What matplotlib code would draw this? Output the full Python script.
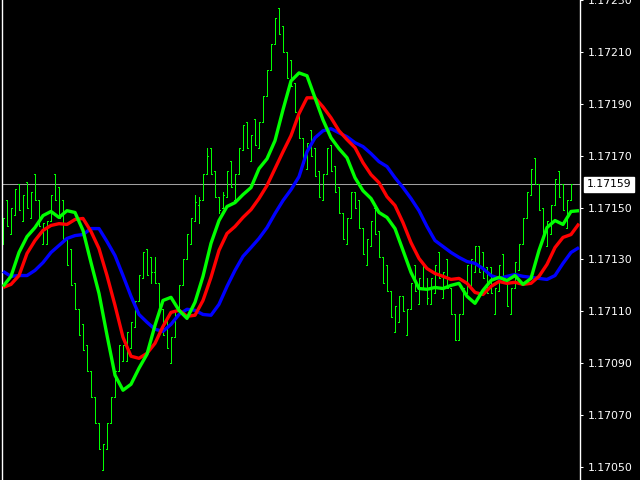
import numpy as np
import matplotlib
matplotlib.use("Agg")
import matplotlib.pyplot as plt
from matplotlib.transforms import blended_transform_factory

# OHLC bars
highs = [1.17146, 1.17153, 1.17150, 1.17157, 1.17159, 1.17155, 1.17160, 1.17156, 1.17163, 1.17153,
         1.17144, 1.17145, 1.17155, 1.17163, 1.17158, 1.17153, 1.17138, 1.17134, 1.17121, 1.17111,
         1.17105, 1.17097, 1.17087, 1.17077, 1.17067, 1.17059, 1.17067, 1.17077, 1.17087, 1.17097,
         1.17097, 1.17102, 1.17106, 1.17114, 1.17124, 1.17133, 1.17134, 1.17131, 1.17131, 1.17121,
         1.17111, 1.17107, 1.17100, 1.17110, 1.17120, 1.17130, 1.17140, 1.17146, 1.17155, 1.17154,
         1.17163, 1.17173, 1.17173, 1.17164, 1.17154, 1.17156, 1.17164, 1.17168, 1.17163, 1.17173,
         1.17182, 1.17183, 1.17178, 1.17184, 1.17183, 1.17193, 1.17203, 1.17213, 1.17223, 1.17227,
         1.17220, 1.17210, 1.17207, 1.17198, 1.17187, 1.17177, 1.17175, 1.17180, 1.17173, 1.17164,
         1.17163, 1.17173, 1.17174, 1.17166, 1.17158, 1.17148, 1.17146, 1.17156, 1.17156, 1.17153,
         1.17142, 1.17138, 1.17145, 1.17150, 1.17141, 1.17131, 1.17128, 1.17118, 1.17112, 1.17116,
         1.17116, 1.17111, 1.17121, 1.17128, 1.17123, 1.17129, 1.17123, 1.17123, 1.17128, 1.17133,
         1.17125, 1.17130, 1.17119, 1.17109, 1.17109, 1.17119, 1.17128, 1.17130, 1.17135, 1.17135,
         1.17133, 1.17127, 1.17127, 1.17119, 1.17128, 1.17132, 1.17122, 1.17119, 1.17129, 1.17136,
         1.17146, 1.17156, 1.17165, 1.17169, 1.17159, 1.17150, 1.17145, 1.17151, 1.17161, 1.17164,
         1.17159, 1.17153, 1.17159]
lows = [1.17136, 1.17143, 1.17140, 1.17147, 1.17149, 1.17145, 1.17150, 1.17146, 1.17153, 1.17143,
        1.17136, 1.17136, 1.17145, 1.17153, 1.17146, 1.17138, 1.17128, 1.17120, 1.17111, 1.17101,
        1.17095, 1.17087, 1.17077, 1.17067, 1.17057, 1.17049, 1.17057, 1.17067, 1.17077, 1.17087,
        1.17091, 1.17091, 1.17096, 1.17104, 1.17114, 1.17123, 1.17124, 1.17121, 1.17121, 1.17112,
        1.17101, 1.17096, 1.17090, 1.17100, 1.17110, 1.17120, 1.17130, 1.17136, 1.17145, 1.17144,
        1.17153, 1.17163, 1.17163, 1.17154, 1.17148, 1.17150, 1.17154, 1.17158, 1.17153, 1.17163,
        1.17172, 1.17173, 1.17168, 1.17174, 1.17173, 1.17183, 1.17193, 1.17203, 1.17213, 1.17217,
        1.17210, 1.17200, 1.17197, 1.17187, 1.17177, 1.17167, 1.17165, 1.17170, 1.17162, 1.17154,
        1.17153, 1.17163, 1.17164, 1.17156, 1.17148, 1.17138, 1.17136, 1.17146, 1.17150, 1.17142,
        1.17132, 1.17128, 1.17135, 1.17140, 1.17131, 1.17121, 1.17118, 1.17108, 1.17102, 1.17106,
        1.17110, 1.17101, 1.17111, 1.17118, 1.17113, 1.17119, 1.17113, 1.17113, 1.17117, 1.17123,
        1.17115, 1.17119, 1.17109, 1.17099, 1.17099, 1.17109, 1.17117, 1.17119, 1.17125, 1.17125,
        1.17123, 1.17117, 1.17117, 1.17109, 1.17118, 1.17122, 1.17112, 1.17109, 1.17119, 1.17126,
        1.17136, 1.17146, 1.17155, 1.17159, 1.17149, 1.17139, 1.17135, 1.17140, 1.17151, 1.17154,
        1.17149, 1.17142, 1.17153]
opens = [1.17136, 1.17153, 1.17140, 1.17147, 1.17159, 1.17145, 1.17160, 1.17146, 1.17163, 1.17153,
         1.17136, 1.17136, 1.17145, 1.17163, 1.17158, 1.17153, 1.17138, 1.17134, 1.17121, 1.17111,
         1.17105, 1.17097, 1.17087, 1.17077, 1.17067, 1.17049, 1.17057, 1.17067, 1.17077, 1.17087,
         1.17091, 1.17091, 1.17096, 1.17104, 1.17114, 1.17123, 1.17134, 1.17131, 1.17125, 1.17121,
         1.17111, 1.17107, 1.17090, 1.17100, 1.17110, 1.17120, 1.17130, 1.17136, 1.17145, 1.17151,
         1.17153, 1.17163, 1.17173, 1.17164, 1.17154, 1.17150, 1.17154, 1.17168, 1.17153, 1.17163,
         1.17172, 1.17183, 1.17168, 1.17184, 1.17173, 1.17183, 1.17193, 1.17203, 1.17213, 1.17227,
         1.17220, 1.17210, 1.17207, 1.17198, 1.17187, 1.17177, 1.17165, 1.17180, 1.17173, 1.17164,
         1.17153, 1.17163, 1.17174, 1.17166, 1.17158, 1.17148, 1.17136, 1.17146, 1.17156, 1.17153,
         1.17142, 1.17128, 1.17135, 1.17150, 1.17141, 1.17131, 1.17128, 1.17118, 1.17102, 1.17106,
         1.17116, 1.17101, 1.17111, 1.17128, 1.17113, 1.17129, 1.17119, 1.17113, 1.17117, 1.17133,
         1.17115, 1.17130, 1.17119, 1.17109, 1.17099, 1.17109, 1.17117, 1.17119, 1.17125, 1.17135,
         1.17133, 1.17127, 1.17127, 1.17109, 1.17118, 1.17132, 1.17122, 1.17109, 1.17119, 1.17126,
         1.17136, 1.17146, 1.17155, 1.17169, 1.17159, 1.17150, 1.17135, 1.17140, 1.17151, 1.17164,
         1.17159, 1.17142, 1.17153]
closes = [1.17146, 1.17143, 1.17150, 1.17157, 1.17149, 1.17155, 1.17150, 1.17156, 1.17153, 1.17143,
          1.17144, 1.17145, 1.17155, 1.17153, 1.17146, 1.17138, 1.17128, 1.17120, 1.17111, 1.17101,
          1.17095, 1.17087, 1.17077, 1.17067, 1.17057, 1.17059, 1.17067, 1.17077, 1.17087, 1.17097,
          1.17097, 1.17102, 1.17106, 1.17114, 1.17124, 1.17133, 1.17124, 1.17125, 1.17121, 1.17112,
          1.17101, 1.17096, 1.17100, 1.17110, 1.17120, 1.17130, 1.17140, 1.17146, 1.17152, 1.17153,
          1.17163, 1.17170, 1.17163, 1.17154, 1.17149, 1.17155, 1.17164, 1.17158, 1.17163, 1.17173,
          1.17182, 1.17173, 1.17178, 1.17174, 1.17183, 1.17193, 1.17203, 1.17213, 1.17223, 1.17217,
          1.17210, 1.17200, 1.17197, 1.17187, 1.17177, 1.17167, 1.17175, 1.17170, 1.17162, 1.17154,
          1.17163, 1.17173, 1.17164, 1.17156, 1.17148, 1.17138, 1.17146, 1.17156, 1.17150, 1.17142,
          1.17132, 1.17138, 1.17145, 1.17140, 1.17131, 1.17121, 1.17118, 1.17108, 1.17112, 1.17116,
          1.17110, 1.17111, 1.17121, 1.17118, 1.17123, 1.17119, 1.17115, 1.17123, 1.17128, 1.17123,
          1.17125, 1.17119, 1.17109, 1.17099, 1.17109, 1.17119, 1.17128, 1.17130, 1.17135, 1.17125,
          1.17123, 1.17117, 1.17117, 1.17119, 1.17128, 1.17122, 1.17112, 1.17119, 1.17129, 1.17136,
          1.17146, 1.17156, 1.17165, 1.17159, 1.17149, 1.17139, 1.17145, 1.17151, 1.17161, 1.17154,
          1.17149, 1.17153, 1.17159]

# moving averages, sampled every second bar (shifted lines run 2 bars past the last bar)
ma_fast = [1.171196, 1.171235, 1.171327, 1.171388, 1.171423, 1.171469, 1.171485, 1.171462, 1.171488, 1.171481,
           1.171412, 1.171288, 1.171169, 1.171008, 1.170854, 1.170796, 1.170819, 1.170881, 1.170935, 1.171046,
           1.171142, 1.171154, 1.171104, 1.171073, 1.171135, 1.171235, 1.171362, 1.171450, 1.171504, 1.171519,
           1.171550, 1.171577, 1.171650, 1.171688, 1.171758, 1.171877, 1.171988, 1.172019, 1.172008, 1.171923,
           1.171838, 1.171769, 1.171727, 1.171692, 1.171615, 1.171565, 1.171535, 1.171481, 1.171462, 1.171419,
           1.171335, 1.171250, 1.171188, 1.171185, 1.171192, 1.171188, 1.171200, 1.171208, 1.171158, 1.171131,
           1.171181, 1.171219, 1.171231, 1.171219, 1.171238, 1.171204, 1.171227, 1.171335, 1.171423, 1.171450,
           1.171435, 1.171485, 1.171488]
ma_mid = [1.171192, 1.171204, 1.171238, 1.171323, 1.171373, 1.171412, 1.171431, 1.171438, 1.171435, 1.171454,
          1.171458, 1.171408, 1.171342, 1.171238, 1.171123, 1.171000, 1.170927, 1.170919, 1.170938, 1.170977,
          1.171042, 1.171096, 1.171104, 1.171081, 1.171085, 1.171142, 1.171231, 1.171335, 1.171400, 1.171427,
          1.171462, 1.171492, 1.171535, 1.171585, 1.171650, 1.171715, 1.171777, 1.171862, 1.171923, 1.171923,
          1.171888, 1.171846, 1.171796, 1.171762, 1.171731, 1.171673, 1.171627, 1.171596, 1.171542, 1.171508,
          1.171442, 1.171365, 1.171304, 1.171265, 1.171246, 1.171235, 1.171223, 1.171227, 1.171208, 1.171173,
          1.171165, 1.171196, 1.171215, 1.171208, 1.171212, 1.171204, 1.171208, 1.171235, 1.171281, 1.171346,
          1.171385, 1.171396, 1.171438]
ma_slow = [1.171254, 1.171235, 1.171238, 1.171238, 1.171258, 1.171288, 1.171327, 1.171354, 1.171381, 1.171392,
           1.171396, 1.171419, 1.171419, 1.171369, 1.171315, 1.171238, 1.171158, 1.171088, 1.171058, 1.171031,
           1.171023, 1.171050, 1.171088, 1.171108, 1.171104, 1.171088, 1.171085, 1.171127, 1.171196, 1.171258,
           1.171312, 1.171346, 1.171381, 1.171423, 1.171477, 1.171527, 1.171569, 1.171619, 1.171715, 1.171769,
           1.171796, 1.171804, 1.171788, 1.171773, 1.171750, 1.171735, 1.171708, 1.171677, 1.171658, 1.171615,
           1.171577, 1.171535, 1.171488, 1.171427, 1.171373, 1.171350, 1.171327, 1.171308, 1.171292, 1.171285,
           1.171265, 1.171238, 1.171227, 1.171235, 1.171242, 1.171235, 1.171231, 1.171227, 1.171223, 1.171238,
           1.171285, 1.171327, 1.171346]

last_price = 1.17159
price_ticks = [1.17050, 1.17070, 1.17090, 1.17110, 1.17130, 1.17150,
               1.17170, 1.17190, 1.17210, 1.17230]

fig = plt.figure(figsize=(6.4, 4.8), dpi=100, facecolor='black')
ax = fig.add_axes([2 / 640, 0, 578 / 640, 1], facecolor='black')

x = np.arange(len(highs))
xm = np.arange(len(ma_fast)) * 2

# barras OHLC, linhas de 1 px sem suavização
bar_col = '#00ff00'
lw_bar = 0.6
ax.vlines(x, lows, highs, color=bar_col, linewidth=lw_bar, antialiased=False, zorder=2)
ax.hlines(opens, x - 0.3, x, color=bar_col, linewidth=lw_bar, antialiased=False, zorder=2)
ax.hlines(closes, x, x + 0.3, color=bar_col, linewidth=lw_bar, antialiased=False, zorder=2)

# linha do preço atual
ax.axhline(last_price, color='#a0a0a0', linewidth=0.75, zorder=1)

# médias móveis
estilo = dict(linewidth=2.4, solid_capstyle='butt', solid_joinstyle='round')
ax.plot(xm, ma_slow, color='#0000ff', zorder=3, **estilo)
ax.plot(xm, ma_mid, color='#ff0000', zorder=4, **estilo)
ax.plot(xm, ma_fast, color='#00ff00', zorder=5, **estilo)

ax.set_xlim(-0.25, 144.25)
ax.set_ylim(1.170450, 1.172296)

for side in ['top', 'bottom']:
    ax.spines[side].set_visible(False)
for side in ['left', 'right']:
    ax.spines[side].set_color('white')
    ax.spines[side].set_linewidth(1)

ax.set_xticks([])
ax.yaxis.tick_right()
ax.set_yticks(price_ticks)
ax.set_yticklabels([f"{v:.5f}" for v in price_ticks])
ax.tick_params(axis='y', colors='white', labelcolor='white', direction='out',
               length=2.5, width=0.75, pad=3, labelsize=7.8)

# etiqueta do preço atual
tr = blended_transform_factory(fig.transFigure, ax.transData)
ax.text(587 / 640, last_price, f"{last_price:.5f}", transform=tr, ha='left', va='center',
        fontsize=7.8, color='black', zorder=10, clip_on=False,
        bbox=dict(boxstyle='square,pad=0.25', facecolor='white', edgecolor='white'))

fig.savefig('out.png', dpi=100, facecolor='black')
